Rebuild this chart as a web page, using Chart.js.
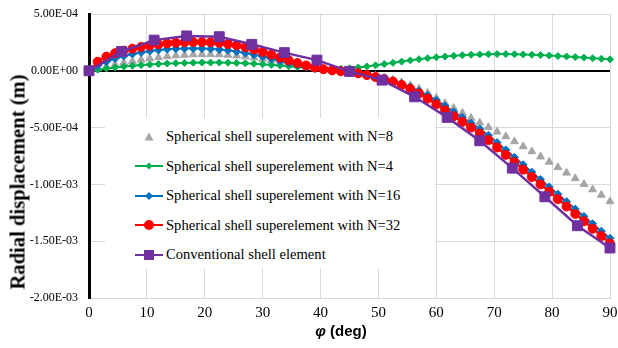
<!DOCTYPE html>
<html>
<head>
<meta charset="utf-8">
<script src="https://cdn.jsdelivr.net/npm/chart.js@4.4.0/dist/chart.umd.min.js"></script>
<style>
  body { margin: 0; background: #fff; overflow: hidden; }
  #caixa { position: relative; width: 618px; height: 348px; }
  #legenda {
    position: absolute; left: 105px; top: 118px; width: 330px; height: 150px;
    background: #fff; font-family: 'Liberation Serif', 'Times New Roman', serif; font-size: 14.6px; color: #000;
    padding-top: 4px; box-sizing: border-box;
  }
  .item { height: 29.5px; display: flex; align-items: center; white-space: nowrap; }
  .item svg { margin-left: 30px; margin-right: 3px; }
  #tituloY {
    position: absolute; left: 18px; top: 182px; transform: translate(-50%, -50%) rotate(-90deg);
    font: bold 20.6px 'Liberation Serif', 'Times New Roman', serif; white-space: nowrap; color: #000;
  }
  #tituloX {
    position: absolute; left: 341px; top: 330px; transform: translate(-50%, -50%);
    font: bold 15px 'Liberation Sans', Arial, sans-serif; white-space: nowrap; color: #000;
  }
</style>
</head>
<body>
<div id="caixa">
  <canvas id="grafico" width="618" height="348"></canvas>
  <div id="legenda"></div>
  <div id="tituloY">Radial displacement (m)</div>
  <div id="tituloX"><i>φ</i> (deg)</div>
</div>
<script>
// Ângulos (graus) das séries densas e da série convencional
const anguloFino = [0, 1.5, 3, 4.5, 6, 7.5, 9, 10.5, 12, 13.5, 15, 16.5, 18, 19.5, 21, 22.5, 24, 25.5, 27, 28.5,
  30, 31.5, 33, 34.5, 36, 37.5, 39, 40.5, 42, 43.5, 45, 46.5, 48, 49.5, 51, 52.5, 54, 55.5, 57, 58.5,
  60, 61.5, 63, 64.5, 66, 67.5, 69, 70.5, 72, 73.5, 75, 76.5, 78, 79.5, 81, 82.5, 84, 85.5, 87, 88.5, 90];
const anguloConv = [0, 5.625, 11.25, 16.875, 22.5, 28.125, 33.75, 39.375, 45, 50.625, 56.25, 61.875, 67.5, 73.125, 78.75, 84.375, 90];

// Deslocamentos radiais em unidades de 1e-4 m
const serieN8 = [0, 0.20, 0.38, 0.55, 0.70, 0.84, 0.97, 1.08, 1.18, 1.27,
  1.34, 1.39, 1.43, 1.45, 1.45, 1.43, 1.39, 1.33, 1.25, 1.15,
  1.03, 0.90, 0.76, 0.62, 0.48, 0.35, 0.23, 0.12, 0.03, -0.05,
  -0.13, -0.22, -0.33, -0.45, -0.60, -0.80, -1.02, -1.28, -1.58, -1.95,
  -2.38, -2.85, -3.28, -3.72, -4.16, -4.58, -4.97, -5.37, -5.78, -6.22,
  -6.66, -7.10, -7.56, -8.02, -8.50, -8.98, -9.47, -9.98, -10.45, -10.93,
  -11.50];
const serieN4 = [0, 0.10, 0.20, 0.29, 0.37, 0.44, 0.50, 0.55, 0.60, 0.64,
  0.67, 0.69, 0.71, 0.72, 0.72, 0.72, 0.71, 0.69, 0.66, 0.62,
  0.57, 0.52, 0.46, 0.40, 0.34, 0.28, 0.23, 0.19, 0.17, 0.18,
  0.22, 0.29, 0.38, 0.48, 0.59, 0.70, 0.81, 0.92, 1.02, 1.11,
  1.19, 1.26, 1.32, 1.37, 1.41, 1.44, 1.46, 1.47, 1.47, 1.46,
  1.44, 1.41, 1.38, 1.34, 1.30, 1.26, 1.21, 1.16, 1.11, 1.06,
  1.01];
const serieN16 = [0, 0.45, 0.80, 1.08, 1.30, 1.48, 1.62, 1.74, 1.83, 1.90,
  1.94, 1.96, 1.97, 1.96, 1.93, 1.88, 1.80, 1.70, 1.57, 1.42,
  1.25, 1.06, 0.87, 0.68, 0.50, 0.34, 0.20, 0.08, -0.01, -0.08,
  -0.15, -0.24, -0.36, -0.51, -0.68, -0.88, -1.12, -1.42, -1.78, -2.18,
  -2.60, -3.10, -3.62, -4.12, -4.62, -5.12, -5.68, -6.32, -6.97, -7.62,
  -8.27, -8.92, -9.57, -10.22, -10.87, -11.52, -12.17, -12.82, -13.47, -14.12,
  -14.75];
const serieN32 = [0, 0.80, 1.25, 1.55, 1.78, 1.95, 2.10, 2.22, 2.33, 2.41,
  2.47, 2.51, 2.53, 2.53, 2.51, 2.46, 2.36, 2.24, 2.08, 1.88,
  1.66, 1.42, 1.17, 0.92, 0.68, 0.47, 0.29, 0.14, 0.04, -0.04,
  -0.10, -0.22, -0.38, -0.55, -0.74, -0.95, -1.25, -1.60, -2.00, -2.45,
  -2.95, -3.48, -4.00, -4.50, -5.00, -5.52, -6.10, -6.75, -7.40, -8.05,
  -8.70, -9.35, -10.00, -10.65, -11.30, -11.95, -12.60, -13.25, -13.90, -14.55,
  -15.20];
const serieConv = [0, 1.70, 2.70, 3.07, 3.00, 2.33, 1.60, 0.94, -0.05, -0.82, -2.29, -4.10, -6.16, -8.57, -11.09, -13.64, -15.60];
const ESCALA = 1e-4;

// Textos e eixos
const nomesSeries = [
  'Spherical shell superelement with N=8',
  'Spherical shell superelement with N=4',
  'Spherical shell superelement with N=16',
  'Spherical shell superelement with N=32',
  'Conventional shell element'
];
const ticksY = [-0.002, -0.0015, -0.001, -0.0005, 0, 0.0005];
const FONTE = "'Liberation Serif', 'Times New Roman', serif";

// Junta ângulos e valores em pontos {x, y}
function pontos(angulos, valores) {
  return angulos.map((a, i) => ({ x: a, y: valores[i] * ESCALA }));
}

// Formato tipo Excel: 5.00E-04
function formatarExp(v) {
  if (Math.abs(v) < 1e-12) return '0.00E+00';
  const partes = v.toExponential(2).split('e');
  const exp = parseInt(partes[1], 10);
  const sinal = exp < 0 ? '-' : '+';
  return partes[0] + 'E' + sinal + String(Math.abs(exp)).padStart(2, '0');
}

const cores = ['#A5A5A5', '#00B050', '#0070C0', '#FF0000', '#7030A0'];

const datasets = [
  { label: nomesSeries[0], data: pontos(anguloFino, serieN8), showLine: false,
    pointStyle: 'triangle', pointRadius: 4.5, order: 4 },
  { label: nomesSeries[1], data: pontos(anguloFino, serieN4), borderWidth: 2,
    pointStyle: 'rectRot', pointRadius: 3.5, order: 3 },
  { label: nomesSeries[2], data: pontos(anguloFino, serieN16), borderWidth: 2,
    pointStyle: 'rectRot', pointRadius: 4, order: 2 },
  { label: nomesSeries[3], data: pontos(anguloFino, serieN32), borderWidth: 2,
    pointStyle: 'circle', pointRadius: 4.5, order: 1 },
  { label: nomesSeries[4], data: pontos(anguloConv, serieConv), borderWidth: 2.5,
    pointStyle: 'rect', pointRadius: 7, order: 0 }
];
datasets.forEach((d, i) => {
  d.borderColor = cores[i];
  d.backgroundColor = cores[i];
  d.pointBorderColor = cores[i];
  d.pointBackgroundColor = cores[i];
  d.pointBorderWidth = 1;
  d.tension = 0;
  d.clip = 12;
});

const ehZero = ctx => Math.abs(ctx.tick.value) < 1e-12;

const grafico = new Chart(document.getElementById('grafico'), {
  type: 'line',
  data: { datasets: datasets },
  options: {
    responsive: false,
    animation: false,
    devicePixelRatio: 1,
    layout: { padding: { top: 14, right: 4, bottom: 0, left: 0 } },
    plugins: { legend: { display: false }, tooltip: { enabled: false } },
    scales: {
      x: {
        type: 'linear', min: 0, max: 90,
        ticks: { stepSize: 10, padding: 6, maxRotation: 0, color: '#000',
          font: { family: FONTE, size: 15 } },
        grid: { color: '#D9D9D9', drawTicks: false },
        border: { color: '#D9D9D9' },
        afterFit: s => { s.height = 50; s.paddingLeft = 0; s.paddingRight = 0; }
      },
      y: {
        min: ticksY[0], max: ticksY[ticksY.length - 1],
        afterBuildTicks: s => { s.ticks = ticksY.map(v => ({ value: v })); },
        ticks: { padding: 11, color: '#000', callback: formatarExp,
          font: { family: FONTE, size: 12 } },
        grid: { color: c => ehZero(c) ? '#000' : '#D9D9D9', lineWidth: c => ehZero(c) ? 2 : 1, drawTicks: false },
        border: { color: '#000', width: 3 },
        afterFit: s => { s.width = 89; s.paddingTop = 0; s.paddingBottom = 0; }
      }
    }
  }
});

// Monta a legenda dentro da área do gráfico
function marcadorSvg(i) {
  const cor = cores[i];
  let linha = i === 0 ? '' : `<line x1="0" y1="10" x2="28" y2="10" stroke="${cor}" stroke-width="2"/>`;
  let forma = '';
  if (i === 0) forma = `<polygon points="14,5.5 18.5,13.5 9.5,13.5" fill="${cor}"/>`;
  else if (i === 1) forma = `<polygon points="14,6.5 17.5,10 14,13.5 10.5,10" fill="${cor}"/>`;
  else if (i === 2) forma = `<polygon points="14,6 18,10 14,14 10,10" fill="${cor}"/>`;
  else if (i === 3) forma = `<circle cx="14" cy="10" r="5" fill="${cor}"/>`;
  else forma = `<rect x="9" y="5" width="10" height="10" fill="${cor}"/>`;
  return `<svg width="28" height="20">${linha}${forma}</svg>`;
}

const legenda = document.getElementById('legenda');
legenda.innerHTML = nomesSeries.map((nome, i) => `
  <div class="item">${marcadorSvg(i)}<span>${nome}</span></div>
`).join('');

// Redesenha quando as fontes estiverem prontas
document.fonts.ready.then(() => grafico.update());
</script>
</body>
</html>
